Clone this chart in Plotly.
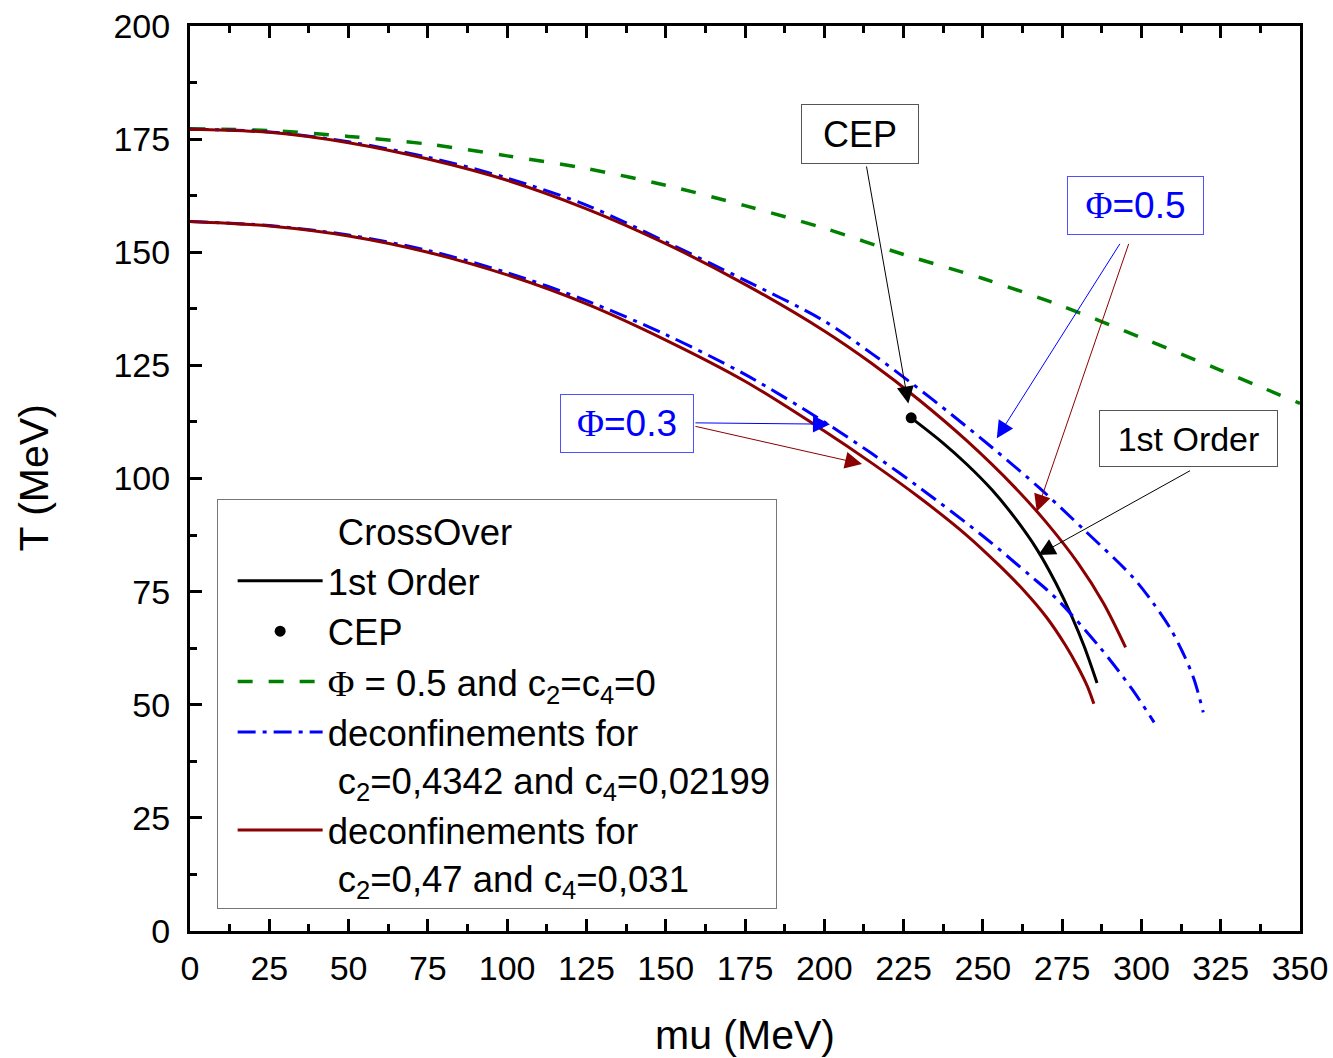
import plotly.graph_objects as go

# ---------------- data ----------------
mu_green = [0, 25, 50, 75, 100, 125, 150, 175, 200, 225, 250, 275, 300, 325, 350]
T_green = [177.3, 176.9, 175.6, 173.9, 171.3, 168.5, 164.8, 160.3, 155.3, 149.5, 144.2, 138.1, 131.1, 123.9, 116.6]

mu_red_hi = [0, 25, 50, 75, 100, 125, 150, 175, 200, 215, 230, 245, 260, 270, 280, 288, 295]
T_red_hi = [177.2, 176.5, 174.2, 170.6, 165.9, 159.6, 151.9, 142.9, 132.6, 125.4, 117.3, 108.3, 98.1, 90.3, 81.3, 72.5, 62.7]

mu_blue_hi = [0, 25, 50, 75, 100, 125, 150, 175, 200, 215, 228, 240, 253, 268, 282, 297, 304, 309, 313, 316.5, 319.5]
T_blue_hi = [177.2, 176.6, 174.4, 171.0, 166.4, 160.4, 152.3, 143.8, 134.8, 127.6, 120.8, 114.2, 106.8, 97.8, 88.6, 78.4, 72.2, 67.0, 61.6, 55.8, 48.3]

mu_red_lo = [0, 25, 50, 75, 100, 125, 150, 175, 200, 215, 230, 245, 255, 263, 270, 276, 280, 283, 285]
T_red_lo = [156.8, 155.8, 153.6, 150.0, 145.0, 138.6, 130.6, 121.5, 110.5, 103.4, 95.8, 87.4, 80.9, 75.2, 69.4, 63.2, 58.3, 54.0, 50.2]

mu_blue_lo = [0, 25, 50, 75, 100, 125, 150, 175, 200, 215, 230, 250, 265, 273, 287, 297, 304]
T_blue_lo = [156.8, 155.9, 153.8, 150.4, 145.5, 139.3, 131.8, 123.0, 112.5, 105.5, 98.0, 87.3, 78.5, 73.6, 62.6, 53.5, 46.1]

mu_first = [227.4, 237, 245, 253, 260, 267, 273, 278, 282, 286]
T_first = [113.4, 108.1, 103.1, 97.4, 91.4, 84.4, 76.9, 69.6, 62.8, 54.8]

mu_cep = [227.4]
T_cep = [113.4]

x_ticks = list(range(0, 351, 25))
y_ticks = list(range(0, 201, 25))

# ---------------- styles ----------------
FONT = "Liberation Sans, Arial, sans-serif"
SERIF = "Liberation Serif"
BLUE = "#0000ff"
RED = "#8b0000"
GREEN = "#008000"
PHI = "<span style='font-family:%s'>Φ</span>" % SERIF
DASHDOT = "18px,7px,4px,7px"
SM = 0.9

fig = go.Figure()

fig.add_trace(go.Scatter(x=[None], y=[None], mode="lines", name="\u00a0CrossOver",
                         line=dict(color="rgba(0,0,0,0)", width=0)))
fig.add_trace(go.Scatter(x=mu_first, y=T_first, mode="lines", name="1st Order",
                         line=dict(color="black", width=3, shape="spline", smoothing=SM)))
fig.add_trace(go.Scatter(x=mu_cep, y=T_cep, mode="markers", name="CEP",
                         marker=dict(color="black", size=11)))
fig.add_trace(go.Scatter(x=mu_green, y=T_green, mode="lines",
                         name=PHI + " = 0.5 and c<sub>2</sub>=c<sub>4</sub>=0",
                         line=dict(color=GREEN, width=3.5, dash="15px,16px", shape="spline", smoothing=SM)))
fig.add_trace(go.Scatter(x=mu_blue_hi, y=T_blue_hi, mode="lines", legendgroup="blue",
                         name="deconfinements for<br>\u00a0c<sub>2</sub>=0,4342 and c<sub>4</sub>=0,02199",
                         line=dict(color=BLUE, width=3, dash=DASHDOT, shape="spline", smoothing=SM)))
fig.add_trace(go.Scatter(x=mu_blue_lo, y=T_blue_lo, mode="lines", legendgroup="blue", showlegend=False,
                         line=dict(color=BLUE, width=3, dash=DASHDOT, shape="spline", smoothing=SM)))
fig.add_trace(go.Scatter(x=mu_red_hi, y=T_red_hi, mode="lines", legendgroup="red",
                         name="deconfinements for<br>\u00a0c<sub>2</sub>=0,47 and c<sub>4</sub>=0,031",
                         line=dict(color=RED, width=3, shape="spline", smoothing=SM)))
fig.add_trace(go.Scatter(x=mu_red_lo, y=T_red_lo, mode="lines", legendgroup="red", showlegend=False,
                         line=dict(color=RED, width=3, shape="spline", smoothing=SM)))

annotations = []

def box(text, x, y, w, h, color, border, size):
    annotations.append(dict(x=x, y=y, xref="x", yref="y", text=text, showarrow=False,
                            font=dict(family=FONT, size=size, color=color),
                            bgcolor="white", bordercolor=border, borderwidth=1,
                            width=w, height=h, borderpad=2, xanchor="center", yanchor="middle"))

def arrow(x, y, ax, ay, color):
    annotations.append(dict(x=x, y=y, ax=ax, ay=ay, xref="x", yref="y", axref="x", ayref="y",
                            text=" ", font=dict(size=1), showarrow=True, arrowhead=2,
                            arrowsize=3.4, arrowwidth=1, arrowcolor=color,
                            standoff=0, startstandoff=0))

arrow(226.5, 116.6, 213.2, 169.4, "black")
arrow(254.4, 108.9, 293.6, 152.3, BLUE)
arrow(267.0, 92.7, 296.2, 152.3, RED)
arrow(201.8, 112.0, 158.9, 112.3, BLUE)
arrow(211.9, 103.2, 158.9, 111.6, RED)
arrow(267.5, 83.1, 315.8, 101.9, "black")

box("CEP", 211.3, 176.1, 112, 54, "black", "#555555", 36)
box(PHI + "=0.5", 298.1, 160.3, 131, 53, BLUE, "#5050ff", 37)
box(PHI + "=0.3", 137.8, 112.2, 128, 53, BLUE, "#5050ff", 37)
box("1st Order", 314.8, 108.8, 173, 51, "black", "#555555", 34)

# axis titles
annotations.append(dict(x=0.5, y=0, xref="paper", yref="paper", text="mu (MeV)", showarrow=False,
                        font=dict(family=FONT, size=41, color="black"),
                        xanchor="center", yanchor="middle", yshift=-104))
annotations.append(dict(x=0, y=0.5, xref="paper", yref="paper", text="T (MeV)", showarrow=False,
                        font=dict(family=FONT, size=41, color="black"), textangle=-90,
                        xanchor="center", yanchor="middle", xshift=-157))

axis_common = dict(showgrid=False, zeroline=False, showline=True, linecolor="black", linewidth=3,
                   ticks="inside", ticklen=12, tickwidth=2.5, tickcolor="black", automargin=False,
                   tickfont=dict(family=FONT, size=34, color="black"))

fig.update_layout(
    width=1333, height=1058,
    margin=dict(l=190, r=33, t=26, b=127),
    paper_bgcolor="white", plot_bgcolor="white",
    showlegend=True,
    legend=dict(x=0.024, y=0.4773, xanchor="left", yanchor="top",
                bgcolor="white", bordercolor="#777777", borderwidth=1,
                font=dict(family=FONT, size=36.5, color="black"),
                itemwidth=85, indentation=15, valign="top", traceorder="normal", tracegroupgap=0),
    annotations=annotations,
)
fig.update_xaxes(range=[0, 350], tickvals=x_ticks, ticklabelstandoff=5, mirror="ticks",
                 minor=dict(ticks="inside", ticklen=7, tickwidth=2.5, tickcolor="black", dtick=12.5, tick0=0),
                 **axis_common)
fig.update_yaxes(range=[0, 200], tickvals=y_ticks, ticklabelstandoff=10, mirror=True,
                 minor=dict(ticks="inside", ticklen=7, tickwidth=2.5, tickcolor="black", dtick=12.5, tick0=0),
                 **axis_common)

fig.write_html("out.html")
